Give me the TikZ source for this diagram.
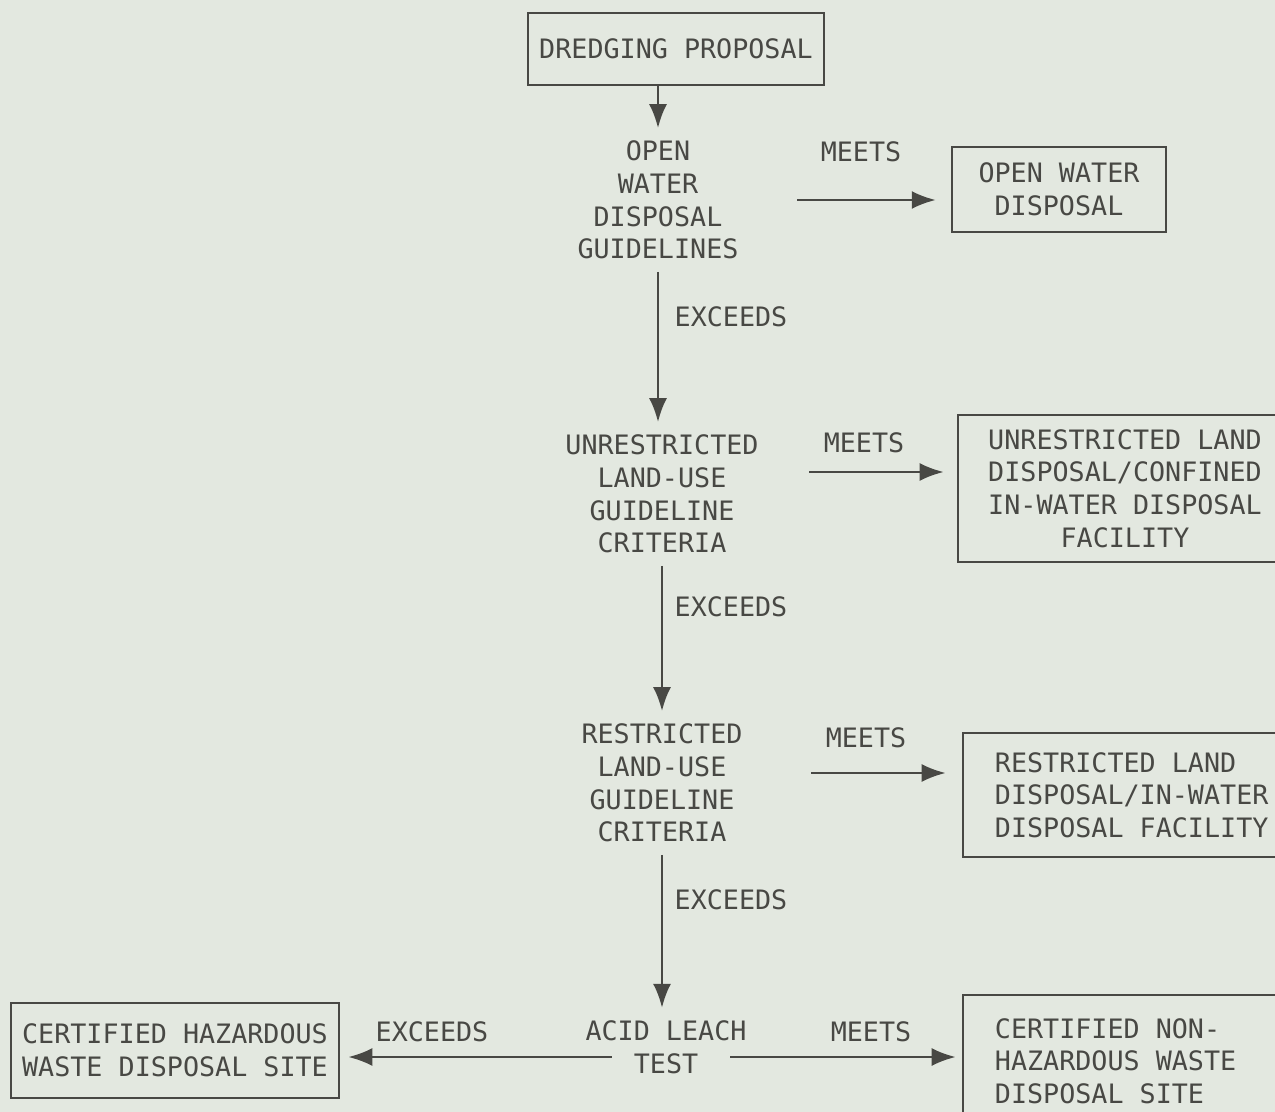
\documentclass[tikz,border=0pt]{standalone}
\usepackage{fontspec}
\setmainfont{DejaVu Sans Mono}[WordSpace={1,0,0}]
\usetikzlibrary{arrows.meta}
\definecolor{paper}{RGB}{227,232,224}
\definecolor{ink}{RGB}{72,72,68}
\newcommand\rigidspace{\spaceskip=\fontdimen2\font\relax}
\tikzset{
  every node/.style={font=\fontsize{7.6pt}{9.3pt}\selectfont, text=ink},
  box/.style={draw=ink, line width=0.65pt, inner sep=0pt, align=center},
  lbox/.style={draw=ink, line width=0.65pt, inner ysep=0pt, inner xsep=0.32cm, text width=2.9cm, align=left,
    execute at begin node=\rigidspace},
  crit/.style={inner xsep=0pt, inner ysep=0.12cm, align=center},
  lbl/.style={inner sep=0pt},
  arr/.style={draw=ink, line width=0.75pt, -{Latex[length=2.4mm,width=1.8mm]}}
}
\begin{document}
\begin{tikzpicture}[x=0.01cm, y=-0.01cm]
        \useasboundingbox (0,0) rectangle (1275,1112);
        \clip (0,0) rectangle (1275,1112);
        \fill[paper] (0,0) rectangle (1275,1112);
        % main column
        \node[box, minimum width=2.96cm, minimum height=0.72cm] (dredge) at (676,49) {DREDGING PROPOSAL};
        \node[crit] (owg) at (658,200) {OPEN\\WATER\\DISPOSAL\\GUIDELINES};
        \node[crit] (ulg) at (662,494) {UNRESTRICTED\\LAND-USE\\GUIDELINE\\CRITERIA};
        \node[crit] (rlg) at (662,783) {RESTRICTED\\LAND-USE\\GUIDELINE\\CRITERIA};
        \node[crit] (acid) at (666,1047) {ACID LEACH\\TEST};
        \coordinate (leach) at ([yshift=-0.1cm]acid.center);
        % outcome boxes
        \node[box, minimum width=2.14cm, minimum height=0.85cm] (owd) at (1059,189.5) {OPEN WATER\\DISPOSAL};
        \node[box, minimum width=3.34cm, minimum height=1.47cm] (uld) at (1125,488.5) {UNRESTRICTED LAND\\DISPOSAL/CONFINED\\IN-WATER DISPOSAL\\FACILITY};
        \node[lbox, minimum height=1.24cm] (rld) at (1140,795) {RESTRICTED LAND\\DISPOSAL/IN-WATER\\DISPOSAL FACILITY};
        \node[lbox, minimum height=1.32cm] (nhd) at (1140,1061) {CERTIFIED NON-\\HAZARDOUS WASTE\\DISPOSAL SITE};
        \node[box, minimum width=3.28cm, minimum height=0.95cm] (haz) at (175,1050.5) {CERTIFIED HAZARDOUS\\WASTE DISPOSAL SITE};
        % connector labels
        \node[lbl] (m1) at (861,152) {MEETS};
        \node[lbl] (e1) at (731,317) {EXCEEDS};
        \node[lbl] (m2) at (864,443) {MEETS};
        \node[lbl] (e2) at (731,607) {EXCEEDS};
        \node[lbl] (m3) at (866,738) {MEETS};
        \node[lbl] (e3) at (731,900) {EXCEEDS};
        \node[lbl] (m4) at (871,1032) {MEETS};
        \node[lbl] (e4) at (432,1032) {EXCEEDS};
        % connectors
        \draw[arr] (dredge.south -| owg.north) -- (owg.north);
        \draw[arr] (owg.south) -- (owg.south |- ulg.north);
        \draw[arr] (ulg.south) -- (ulg.south |- rlg.north);
        \draw[arr] (rlg.south) -- (rlg.south |- acid.north);
        \draw[arr, shorten <=0.58cm, shorten >=0.15cm] (owg.east) -- (owg.east -| owd.west);
        \draw[arr, shorten <=0.5cm, shorten >=0.13cm] ([yshift=0.22cm]ulg.east) -- ([yshift=0.22cm]ulg.east -| uld.west);
        \draw[arr, shorten <=0.68cm, shorten >=0.16cm] ([yshift=0.1cm]rlg.east) -- ([yshift=0.1cm]rlg.east -| rld.west);
        \draw[arr, shorten <=0.64cm, shorten >=0.06cm] (leach) -- (leach -| nhd.west);
        \draw[arr, shorten <=0.54cm, shorten >=0.08cm] (leach) -- (leach -| haz.east);
      \end{tikzpicture}
\end{document}
